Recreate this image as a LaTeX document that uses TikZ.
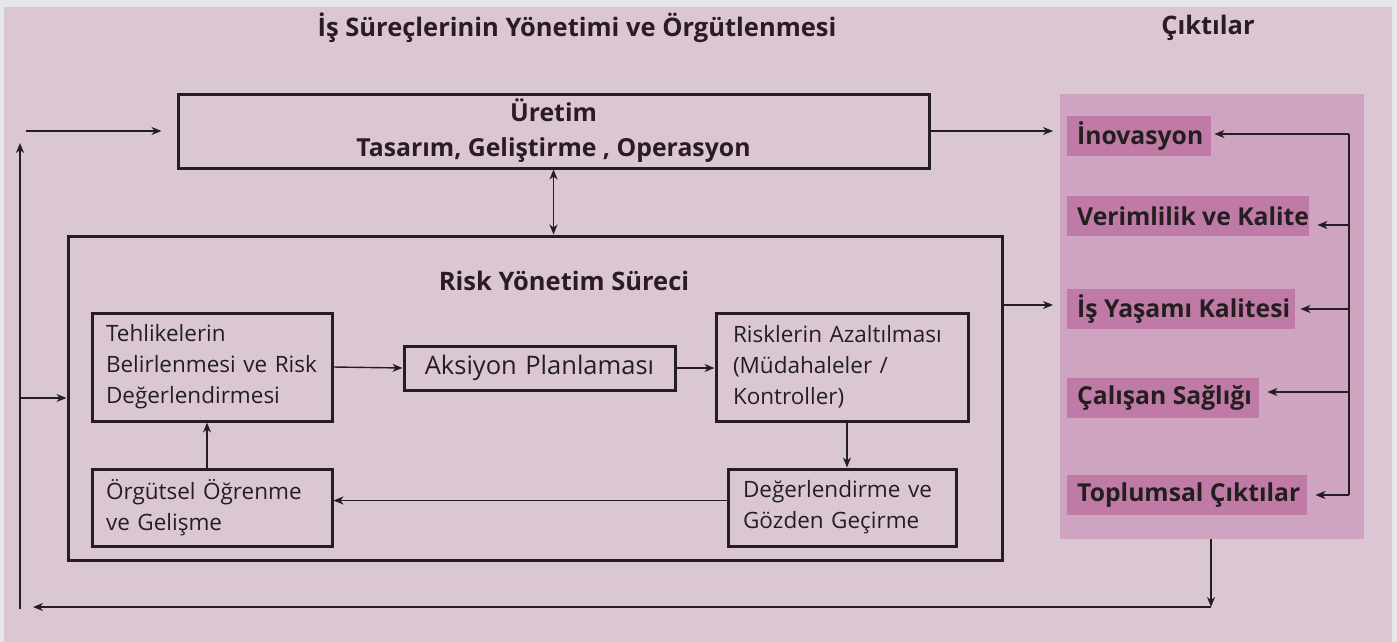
\documentclass[tikz,border=0pt]{standalone}
\usepackage{fontspec}
\setmainfont{Open Sans}
\usetikzlibrary{arrows.meta,calc}
\definecolor{outerbg}{HTML}{E6E7E8}
\definecolor{pinkbg}{HTML}{DAC7D3}
\definecolor{panelbg}{HTML}{CEA4C0}
\definecolor{labelbg}{HTML}{BF7AA5}
\definecolor{ink}{HTML}{231F20}
\definecolor{headink}{HTML}{2B1B27}
\tikzset{
  arr/.style={draw=ink, line width=1.4pt, -{Stealth[length=10pt,width=8pt,inset=3pt]}},
  darr/.style={draw=ink, line width=1.4pt, {Stealth[length=10pt,width=8pt,inset=3pt]}-{Stealth[length=10pt,width=8pt,inset=3pt]}},
  plain/.style={draw=ink, line width=1.4pt},
  bigbox/.style={draw=ink, line width=3pt, rectangle, inner sep=0pt},
  stepbox/.style={draw=ink, line width=3pt, rectangle, align=left, text=ink,
    font=\fontsize{22.5}{31}\selectfont, inner ysep=0pt},
  outlabel/.style={fill=labelbg, anchor=west, text=ink, inner xsep=10pt, inner ysep=0pt,
    minimum height=40pt, font=\fontsize{24.7}{28}\selectfont\bfseries},
  heading/.style={text=headink, font=\fontsize{25.5}{30}\selectfont\bfseries, inner sep=0pt}
}
\newcommand{\lbl}[2]{\makebox[\dimexpr #1pt-20pt\relax][l]{#2}}
\begin{document}
\begin{tikzpicture}[x=1pt,y=-1pt]
\useasboundingbox (0,0) rectangle (1397,642);
\fill[outerbg] (0,0) rectangle (1397,642);
\fill[pinkbg] (4,7) rectangle (1392,642);
% output panel
\node[fill=panelbg, rectangle, inner sep=0pt, minimum width=304pt, minimum height=445pt] (outp) at (1212,316.5) {};
% headings
\node[heading] (t1) at (577,28) {İş Süreçlerinin Yönetimi ve Örgütlenmesi};
\node[heading] (t2) at (1208,28) {Çıktılar};
% production box
\node[bigbox, minimum width=751pt, minimum height=74pt, align=center, text=headink,
  font=\fontsize{24.8}{35}\selectfont\bfseries] (ure) at (553.5,131) {Üretim\\Tasarım, Geliştirme , Operasyon};
% risk box
\node[bigbox, minimum width=934pt, minimum height=324pt] (risk) at (535,398) {};
\node[heading] (rt) at (564,281) {Risk Yönetim Süreci};
% steps
\node[stepbox, text width=212pt, inner xsep=14pt, minimum height=108pt] (teh) at (212,367)
  {Tehlikelerin\\Belirlenmesi ve Risk\\Değerlendirmesi};
\node[stepbox, align=center, text width=241pt, inner xsep=15pt, minimum height=44pt,
  font=\fontsize{25.5}{30}\selectfont] (aks) at (539.5,368) {Aksiyon Planlaması};
\node[stepbox, text width=218pt, inner xsep=17pt, minimum height=108pt] (rsk) at (842,367)
  {Risklerin Azaltılması\\(Müdahaleler /\\Kontroller)};
\node[stepbox, text width=198pt, inner xsep=15pt, minimum height=77pt] (deg) at (842,507.5)
  {Değerlendirme ve\\Gözden Geçirme};
\node[stepbox, text width=212pt, inner xsep=14pt, minimum height=77pt] (org) at (212,507.5)
  {Örgütsel Öğrenme\\ve Gelişme};
% output labels
\node[outlabel] (ino) at (1067,136) {\lbl{144}{İnovasyon}};
\node[outlabel] (ver) at (1067,216) {\lbl{242}{Verimlilik ve Kalite}};
\node[outlabel] (isy) at (1067,309) {\lbl{228}{İş Yaşamı Kalitesi}};
\node[outlabel] (cal) at (1067,398) {\lbl{192}{Çalışan Sağlığı}};
\node[outlabel] (top) at (1067,495) {\lbl{240}{Toplumsal Çıktılar}};
% coordinates
\coordinate (r1) at (1349,134);
\coordinate (r2) at (1349,225);
\coordinate (r3) at (1349,309);
\coordinate (r4) at (1349,392);
\coordinate (r5) at (1349,495);
\coordinate (in1) at (26,131);
\coordinate (b1) at (1211,607);
\coordinate (b2) at (33,607);
\coordinate (l1) at (20,609);
\coordinate (l2) at (20,143);
% connectors
\draw[arr] (in1) -- ([xshift=-15pt]ure.west);
\draw[arr] (ure.east) -- ([xshift=-14pt]ure.east -| ino.west);
\draw[darr] (ure.south) -- (ure.south |- risk.north);
\draw[arr] ([yshift=4pt]risk.east |- r3) -- ([xshift=-14pt,yshift=4pt]r3 -| isy.west);
\draw[plain] (r1) -- (r5);
\draw[arr] (r1) -- ([xshift=3pt]r1 -| ino.east);
\draw[arr] (r2) -- ([xshift=8pt]r2 -| ver.east);
\draw[arr] (r3) -- ([xshift=5pt]r3 -| isy.east);
\draw[arr] (r4) -- ([xshift=8pt]r4 -| cal.east);
\draw[arr] (r5) -- ([xshift=8pt]r5 -| top.east);
\draw[arr] (b1 |- outp.south) -- (b1);
\draw[arr] (b1) -- (b2);
\draw[arr] (l1) -- (l2);
\draw[arr] (l1 |- risk.west) -- (risk.west);
\draw[arr] (teh.east) -- (aks.west);
\draw[arr] (aks.east) -- (aks.east -| rsk.west);
\draw[arr] ([xshift=5pt]rsk.south) -- ([xshift=5pt]rsk.south |- deg.north);
\draw[arr] ([yshift=7pt]deg.west) -- ([yshift=7pt]deg.west -| org.east);
\draw[arr] ([xshift=-5pt]org.north) -- ([xshift=-5pt]org.north |- teh.south);
\end{tikzpicture}
\end{document}
